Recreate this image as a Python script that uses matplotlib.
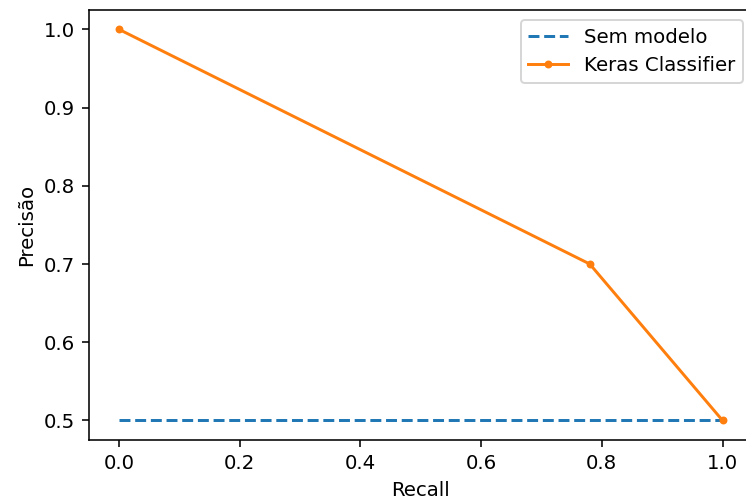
import matplotlib
matplotlib.use('Agg')
import matplotlib.pyplot as plt

# curva precisão x recall
recall_sem_modelo = [0, 1]
precisao_sem_modelo = [0.5, 0.5]
recall_keras = [1.0, 0.78, 0.0]
precisao_keras = [0.5, 0.7, 1.0]

dpi = 142
fig = plt.figure(figsize=(746/dpi, 502/dpi), dpi=dpi)
ax = fig.add_axes([0.119, 0.1235, 0.890, 0.857])

ax.plot(recall_sem_modelo, precisao_sem_modelo, linestyle='--', label='Sem modelo')
ax.plot(recall_keras, precisao_keras, marker='.', label='Keras Classifier')
ax.set_xlabel('Recall')
ax.set_ylabel('Precisão')
ax.legend()

fig.savefig('out.png', dpi=dpi)
